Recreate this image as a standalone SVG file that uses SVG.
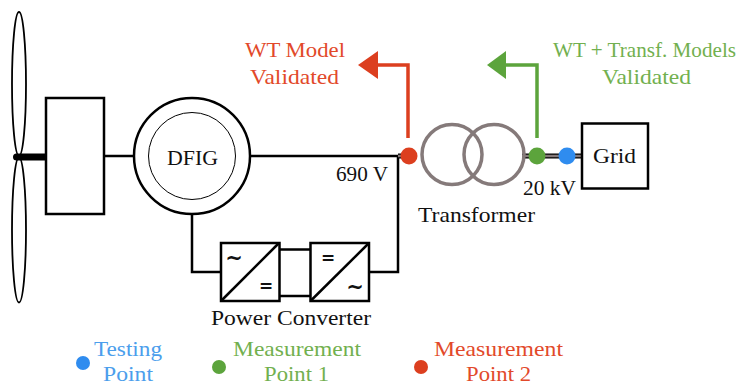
<svg xmlns="http://www.w3.org/2000/svg" width="747" height="385" viewBox="0 0 747 385">
<style>
text{font-family:"Liberation Serif","Times New Roman",serif;font-size:21px;fill:#111}
.r{fill:#e2492a}.g{fill:#72b04f}.b{fill:#4b9eec}
.s{fill:none;stroke:#000;stroke-width:2.5}
.w{fill:#fff;stroke:#000;stroke-width:2.5}
.t{fill:none;stroke:#857a7a;stroke-width:3.5}
text.sym{font-family:"DejaVu Sans",sans-serif;font-weight:bold;font-size:17px;fill:#111;text-anchor:middle}
text.til{font-size:21px}
</style>
<g id="connectors">
<path class="s" d="M104 156H134M250 156H400M192 200V272H221M369 272H398V156"/>
<path class="s" d="M279 249.500H310M279 296H310"/>
<path d="M398 156H416M522 156H582" fill="none" stroke="#000" stroke-width="5"/>
<path d="M398 156H416M522 156H582" fill="none" stroke="#857a7a" stroke-width="2.500"/>
<path d="M16.500 157H46" fill="none" stroke="#000" stroke-width="7" stroke-linecap="round"/>
</g>
<g id="blades"><ellipse class="s" cx="19" cy="84" rx="7" ry="72" style="stroke-width:1.800"/><ellipse class="s" cx="19" cy="230" rx="7" ry="72.500" style="stroke-width:1.800"/></g>
<g id="gearbox"><rect class="w" x="46" y="98" width="58" height="116"/></g>
<g id="dfig"><circle class="w" cx="192" cy="156" r="58"/><circle cx="192" cy="156" r="43.500" fill="none" stroke="#000" stroke-width="1"/><text x="167" y="165" textLength="51" lengthAdjust="spacingAndGlyphs">DFIG</text></g>
<g id="converter1"><rect class="w" x="221" y="243" width="58.500" height="58"/><path class="s" d="M221 301L279 243"/><text class="sym til" x="234" y="265">~</text><text class="sym" x="266" y="292">=</text></g>
<g id="converter2"><rect class="w" x="310.500" y="243" width="58.500" height="58"/><path class="s" d="M310.500 301L369 243"/><text class="sym" x="328" y="264">=</text><text class="sym til" x="355" y="294">~</text></g>
<g id="transformer"><circle class="t" cx="452" cy="154.500" r="30"/><circle class="t" cx="494" cy="154.500" r="30"/></g>
<g id="grid"><rect class="w" x="582" y="123.500" width="66" height="65"/><text x="593" y="163" textLength="43" lengthAdjust="spacingAndGlyphs">Grid</text></g>
<g id="arrow-red"><path d="M408 138V65H375" fill="none" stroke="#dc3f1f" stroke-width="3.500"/><path d="M358 65L378 51V79Z" fill="#dc3f1f"/></g>
<g id="arrow-green"><path d="M537 138V65H504" fill="none" stroke="#5ca43c" stroke-width="3.500"/><path d="M487 65L506 51V79Z" fill="#5ca43c"/></g>
<g id="measure-points"><circle cx="409" cy="156" r="8.500" fill="#dc3f1f"/><circle cx="537" cy="156" r="8.500" fill="#5ca43c"/><circle cx="567" cy="156" r="8.500" fill="#2f8cef"/></g>
<g id="labels">
<text class="r" x="245" y="57" textLength="100" lengthAdjust="spacingAndGlyphs">WT Model</text>
<text class="r" x="250" y="84" textLength="89" lengthAdjust="spacingAndGlyphs">Validated</text>
<text class="g" x="553" y="57" textLength="183" lengthAdjust="spacingAndGlyphs">WT + Transf. Models</text>
<text class="g" x="602" y="84" textLength="89" lengthAdjust="spacingAndGlyphs">Validated</text>
<text x="336" y="181" textLength="52" lengthAdjust="spacingAndGlyphs">690 V</text>
<text x="523" y="195" textLength="53" lengthAdjust="spacingAndGlyphs">20 kV</text>
<text x="418" y="222" textLength="117" lengthAdjust="spacingAndGlyphs">Transformer</text>
<text x="211" y="325" textLength="160" lengthAdjust="spacingAndGlyphs">Power Converter</text>
</g>
<g id="legend-testing"><circle cx="83" cy="363" r="7" fill="#2f8cef"/><text class="b" x="94" y="356" textLength="68" lengthAdjust="spacingAndGlyphs">Testing</text><text class="b" x="103" y="380.500" textLength="50" lengthAdjust="spacingAndGlyphs">Point</text></g>
<g id="legend-mp1"><circle cx="219" cy="367" r="7" fill="#5ca43c"/><text class="g" x="233" y="356" textLength="128" lengthAdjust="spacingAndGlyphs">Measurement</text><text class="g" x="264" y="380.500" textLength="65" lengthAdjust="spacingAndGlyphs">Point 1</text></g>
<g id="legend-mp2"><circle cx="421" cy="367" r="7" fill="#dc3f1f"/><text class="r" x="434" y="356" textLength="129" lengthAdjust="spacingAndGlyphs">Measurement</text><text class="r" x="466" y="380.500" textLength="65" lengthAdjust="spacingAndGlyphs">Point 2</text></g>
</svg>
